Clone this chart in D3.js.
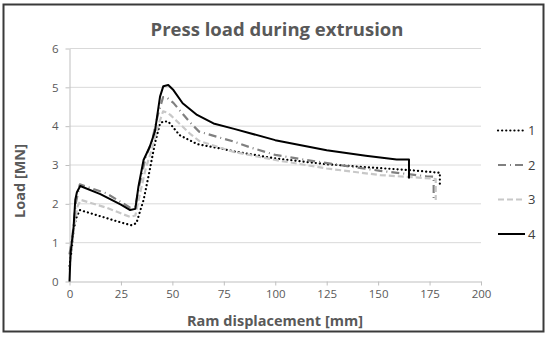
<!DOCTYPE html>
<html>
<head>
<meta charset="utf-8">
<script src="https://cdn.jsdelivr.net/npm/d3@7"></script>
<style>
  body { margin: 0; background: #fff; }
  text { font-family: "Open Sans", "Noto Sans", sans-serif; }
</style>
</head>
<body>
<div id="chart"></div>
<script>
// data: ram displacement [mm] and load [MN]
var xTicks = [0, 25, 50, 75, 100, 125, 150, 175, 200]
var yTicks = [0, 1, 2, 3, 4, 5, 6]
var seriesNames = ['1', '2', '3', '4']

var s1x = [0, 1, 2, 3, 5, 15, 25, 30, 32.5, 36, 39, 41.5, 44, 45.5, 48, 53.5, 62, 73, 80, 100, 125, 145, 165, 180, 180]
var s1y = [0.4, 0.8, 1.3, 1.6, 1.84, 1.68, 1.52, 1.45, 1.5, 2.1, 2.87, 3.56, 4.07, 4.12, 4.12, 3.77, 3.54, 3.43, 3.35, 3.17, 3.02, 2.94, 2.87, 2.8, 2.5]

var s2x = [0, 1.5, 3, 5, 18, 29.5, 32, 34, 37, 40, 43, 45.5, 47, 50.5, 58.5, 63, 80, 88, 100, 115, 131, 151, 173.5, 177, 177]
var s2y = [0.7, 1.2, 2.0, 2.5, 2.27, 1.9, 1.93, 2.5, 3.2, 3.6, 4.3, 4.75, 4.75, 4.6, 4.1, 3.86, 3.6, 3.45, 3.26, 3.13, 3.0, 2.85, 2.71, 2.7, 2.1]

var s3x = [0, 1, 2.5, 4, 5.5, 18, 29.5, 32, 34, 37, 40, 43, 45.5, 47.5, 49, 58.5, 63, 79.5, 100, 125, 151, 176.5, 178, 178]
var s3y = [0.3, 0.8, 1.5, 1.95, 2.1, 1.9, 1.66, 1.7, 2.2, 2.9, 3.4, 4.0, 4.38, 4.35, 4.29, 3.81, 3.62, 3.34, 3.13, 2.91, 2.74, 2.65, 2.64, 2.1]

var s4x = [0, 0.5, 2, 2.8, 3.6, 5.2, 15, 25, 29.5, 32, 33.5, 36, 39, 41.5, 44, 45.6, 48, 50.5, 55, 62, 70, 80, 100, 125, 144, 159, 165, 165]
var s4y = [0, 0.72, 1.41, 2.1, 2.3, 2.46, 2.25, 1.98, 1.84, 1.87, 2.44, 3.13, 3.47, 3.86, 4.76, 5.03, 5.06, 4.93, 4.59, 4.29, 4.07, 3.93, 3.64, 3.38, 3.24, 3.14, 3.14, 2.65]

var allX = [s1x, s2x, s3x, s4x]
var allY = [s1y, s2y, s3y, s4y]

var styles = [
  {stroke: '#000000', width: 2.2, dash: '0.1,4', cap: 'round'},
  {stroke: '#808080', width: 2.2, dash: '8,4,1,4', cap: 'butt'},
  {stroke: '#c8c8c8', width: 2.2, dash: '6,3', cap: 'butt'},
  {stroke: '#000000', width: 2, dash: null, cap: 'butt'}
]

var W = 550, H = 337
var svg = d3.select('#chart').append('svg')
  .attr('width', W).attr('height', H)

// outer frame
svg.append('rect')
  .attr('x', 3.5).attr('y', 4.5).attr('width', 540).attr('height', 327)
  .style('fill', '#fff').style('stroke', '#3a3a3a').style('stroke-width', 2)

var x = d3.scaleLinear().domain([0, 200]).range([69.5, 481])
var y = d3.scaleLinear().domain([0, 6]).range([281.5, 48.5])

// gridlines
svg.append('g')
  .selectAll('line')
  .data(yTicks.slice(1))
  .enter().append('line')
  .attr('x1', x(0)).attr('x2', x(200))
  .attr('y1', function(d) { return y(d) }).attr('y2', function(d) { return y(d) })
  .style('stroke', '#d9d9d9').style('stroke-width', 1)

// axes
var xAxis = svg.append('g')
  .attr('transform', 'translate(0,' + y(0) + ')')
  .call(d3.axisBottom(x).tickValues(xTicks).tickFormat(d3.format('d'))
    .tickSize(4).tickSizeOuter(0).tickPadding(4))
var yAxis = svg.append('g')
  .attr('transform', 'translate(' + x(0) + ',0)')
  .call(d3.axisLeft(y).tickValues(yTicks).tickFormat(d3.format('d'))
    .tickSize(4).tickSizeOuter(0).tickPadding(7))

;[xAxis, yAxis].forEach(function(a) {
  a.select('.domain').style('stroke', '#bfbfbf')
  a.selectAll('.tick line').style('stroke', '#bfbfbf')
  a.selectAll('.tick text')
    .style('fill', '#595959')
    .style('font-size', '11.5px')
    .style('font-family', '"Open Sans", sans-serif')
})

// series lines
var line = d3.line()
  .x(function(d) { return x(d[0]) })
  .y(function(d) { return y(d[1]) })

seriesNames.forEach(function(name, i) {
  var pts = allX[i].map(function(v, j) { return [v, allY[i][j]] })
  var st = styles[i]
  svg.append('path')
    .datum(pts)
    .attr('class', 'line s' + name)
    .attr('d', line)
    .style('fill', 'none')
    .style('stroke', st.stroke)
    .style('stroke-width', st.width)
    .style('stroke-linecap', st.cap)
    .style('stroke-linejoin', 'round')
    .style('stroke-dasharray', st.dash)
})

// legend
var legendY = d3.scalePoint().domain(seriesNames).range([130.5, 234])
seriesNames.forEach(function(name, i) {
  var st = styles[i]
  svg.append('line')
    .attr('x1', 498).attr('x2', 525)
    .attr('y1', legendY(name)).attr('y2', legendY(name))
    .style('stroke', st.stroke)
    .style('stroke-width', st.width)
    .style('stroke-linecap', st.cap)
    .style('stroke-dasharray', st.dash)
  svg.append('text')
    .attr('x', 528).attr('y', legendY(name))
    .attr('dy', '0.35em')
    .text(name)
    .style('font-size', '13px')
    .style('fill', '#404040')
})

// titles
svg.append('text')
  .attr('x', 277).attr('y', 36)
  .attr('text-anchor', 'middle')
  .text('Press load during extrusion')
  .style('font-size', '18.5px').style('font-weight', 'bold')
  .style('fill', '#595959')

svg.append('text')
  .attr('x', 275).attr('y', 326)
  .attr('text-anchor', 'middle')
  .text('Ram displacement [mm]')
  .style('font-size', '14.5px').style('font-weight', 'bold')
  .style('fill', '#595959')

svg.append('text')
  .attr('transform', 'translate(25,181) rotate(-90)')
  .attr('text-anchor', 'middle')
  .text('Load [MN]')
  .style('font-size', '14.5px').style('font-weight', 'bold')
  .style('fill', '#595959')
</script>
</body>
</html>
